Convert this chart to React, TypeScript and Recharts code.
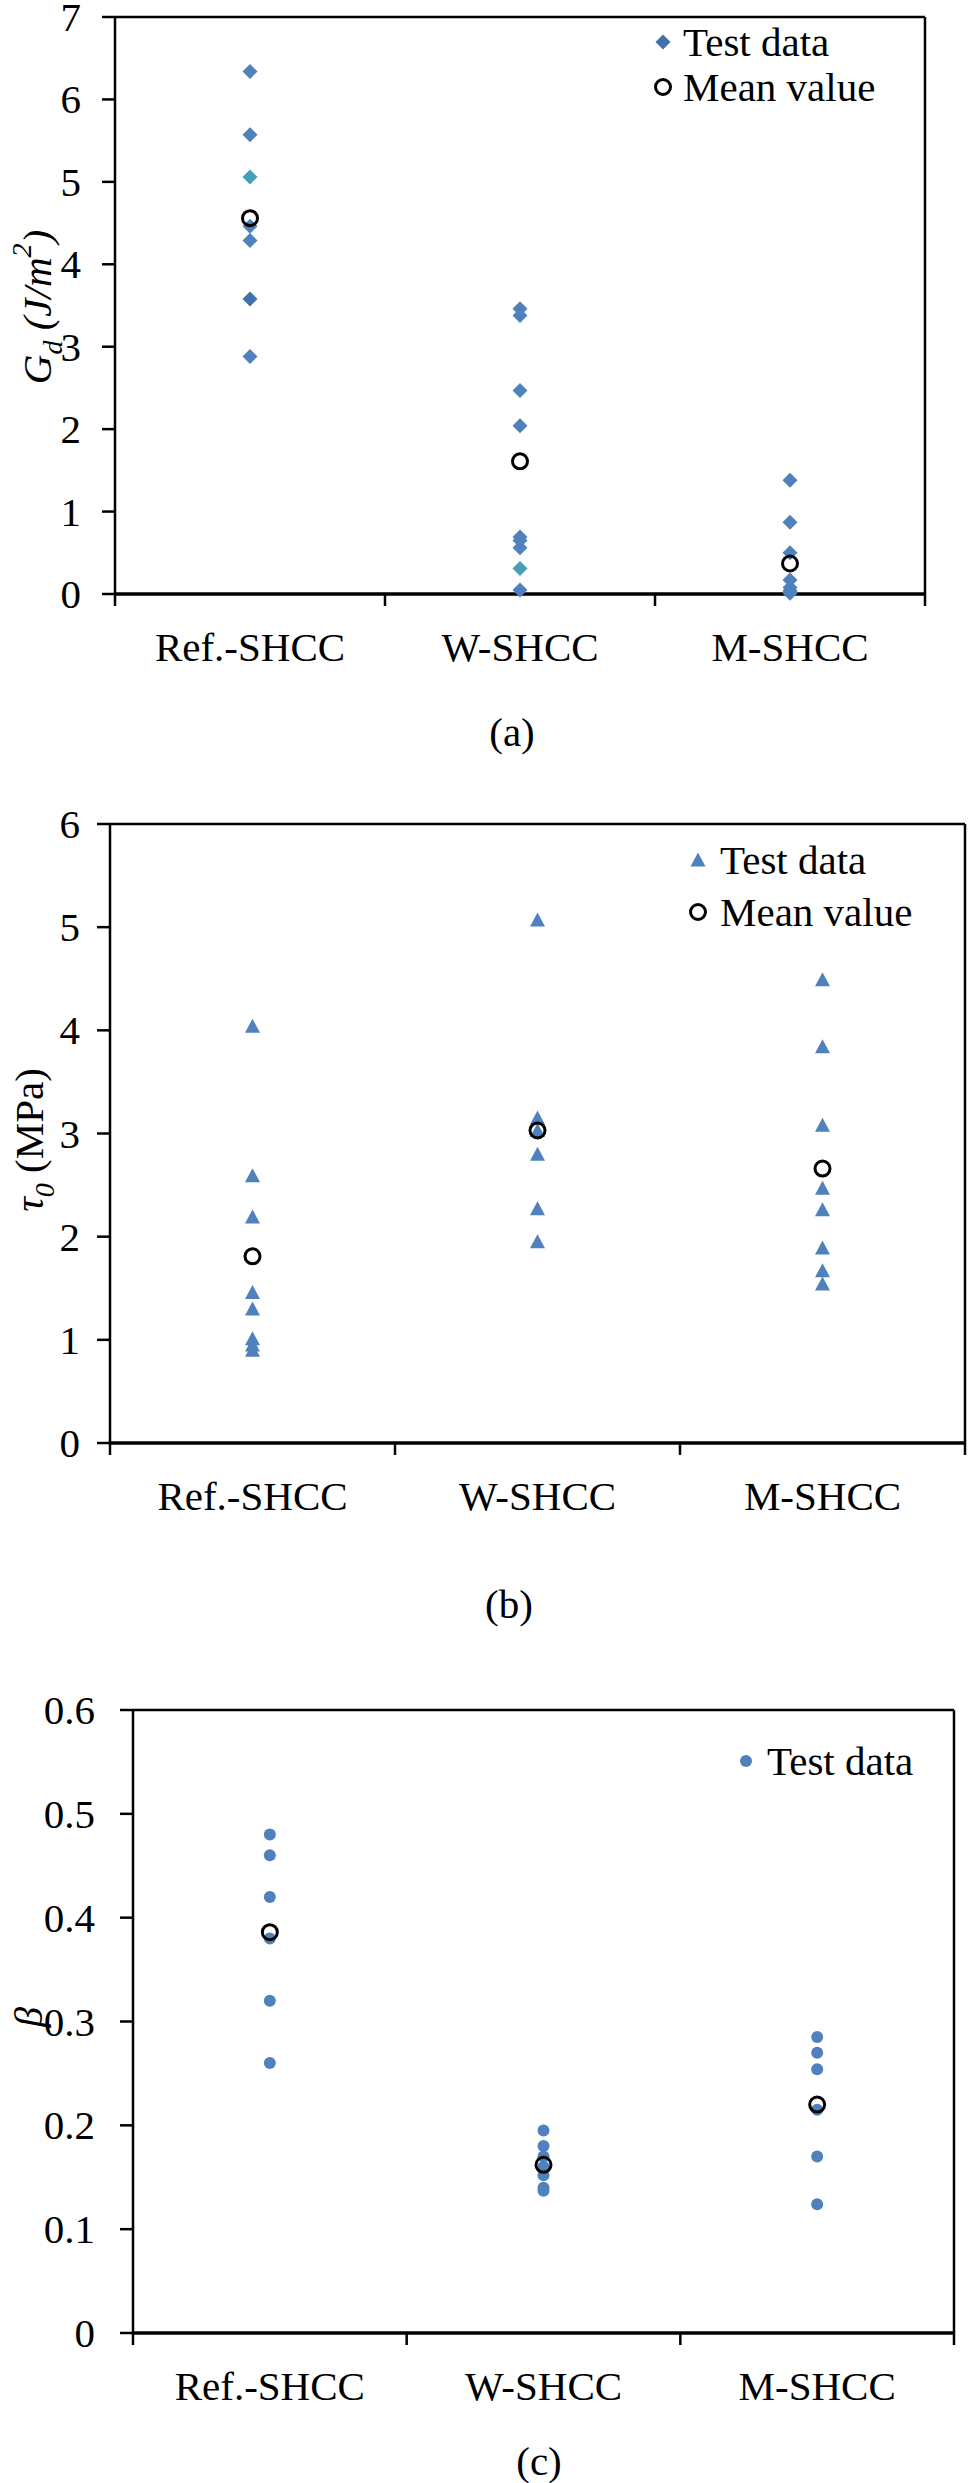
import React from "react"
import {
  ScatterChart,
  Scatter,
  XAxis,
  YAxis,
  Cell,
  ReferenceLine,
} from "recharts"

// ---- data ----
const categories = ["Ref.-SHCC", "W-SHCC", "M-SHCC"]

// (a) debonding energy Gd (J/m2)
const gdRef = [6.34, 5.57, 5.06, 4.46, 4.29, 3.58, 2.88]
const gdW = [3.46, 3.38, 2.47, 2.04, 0.69, 0.65, 0.56, 0.31, 0.05]
const gdM = [1.38, 0.87, 0.5, 0.17, 0.08, 0.04, 0.02, 0.01]
const gdMean = [4.56, 1.61, 0.37]
const gdTicks = [0, 1, 2, 3, 4, 5, 6, 7]

// (b) frictional bond tau0 (MPa)
const tauRef = [4.04, 2.59, 2.19, 1.46, 1.3, 1.01, 0.95, 0.9]
const tauW = [5.07, 3.15, 3.03, 2.8, 2.27, 1.95]
const tauM = [4.49, 3.84, 3.08, 2.47, 2.26, 1.89, 1.67, 1.54]
const tauMean = [1.81, 3.03, 2.66]
const tauTicks = [0, 1, 2, 3, 4, 5, 6]

// (c) slip-hardening coefficient beta
const betaRef = [0.48, 0.46, 0.42, 0.38, 0.32, 0.26]
const betaW = [0.195, 0.18, 0.17, 0.16, 0.152, 0.14, 0.137]
const betaM = [0.285, 0.27, 0.254, 0.215, 0.17, 0.124]
const betaMean = [0.386, 0.162, 0.22]
const betaTicks = [0, 0.1, 0.2, 0.3, 0.4, 0.5, 0.6]

const xTicks = [0, 0.5, 1, 1.5, 2, 2.5, 3]

// ---- styling ----
const FONT = "'Liberation Serif', 'Times New Roman', serif"
const FS = 41
const BLUE = "#4F81BD"
const TEAL = "#46A0B8"
const DARK = "#4170AD"
const X_TICK = 12

// a couple of points in (a) were coloured differently in the original
const gdFill: Record<string, string> = { "0-2": TEAL, "0-5": DARK, "1-7": TEAL }

function toPoints(groups: number[][]) {
  return groups.flatMap((vals, c) =>
    vals.map((v, i) => ({ x: c + 0.5, y: v, key: `${c}-${i}` }))
  )
}
function meanPoints(vals: number[]) {
  return vals.map((v, c) => ({ x: c + 0.5, y: v }))
}

const Diamond = (p: any) => (
  <polygon
    points={`${p.cx},${p.cy - 7.5} ${p.cx + 7.5},${p.cy} ${p.cx},${p.cy + 7.5} ${p.cx - 7.5},${p.cy}`}
    fill={p.fill}
  />
)
const Triangle = (p: any) => (
  <polygon
    points={`${p.cx},${p.cy - 7.5} ${p.cx + 7.5},${p.cy + 6.5} ${p.cx - 7.5},${p.cy + 6.5}`}
    fill={p.fill}
  />
)
const Dot = (p: any) => <circle cx={p.cx} cy={p.cy} r={6} fill={p.fill} />
const Ring = (p: any) => (
  <circle cx={p.cx} cy={p.cy} r={7.5} fill="none" stroke="#000" strokeWidth={3} />
)

function CategoryTick({ x, y, payload }: any) {
  const v = payload.value
  const axisY = y - X_TICK
  if (Number.isInteger(v)) {
    return <line x1={x} x2={x} y1={axisY} y2={axisY + X_TICK} stroke="#000" strokeWidth={2.5} />
  }
  return (
    <text x={x} y={axisY + 67} textAnchor="middle" fontFamily={FONT} fontSize={FS} fill="#000">
      {categories[Math.floor(v)]}
    </text>
  )
}

function NumTick({ x, y, payload }: any) {
  return (
    <text x={x} y={y} textAnchor="end" dominantBaseline="central" fontFamily={FONT} fontSize={FS} fill="#000">
      {String(payload.value)}
    </text>
  )
}

type PanelProps = {
  top: number
  height: number
  marginTop: number
  marginRight: number
  xHeight: number
  yWidth: number
  tickMargin: number
  yMax: number
  yTicks: number[]
  points: { x: number; y: number; key: string }[]
  means: { x: number; y: number }[]
  shape: (p: any) => React.ReactElement
  fills?: Record<string, string>
}

function Panel(props: PanelProps) {
  const { top, height, marginTop, marginRight, xHeight, yWidth, tickMargin, yMax, yTicks, points, means, shape, fills } = props
  return (
    <div style={{ position: "absolute", left: 0, top, fontFamily: FONT }}>
      <ScatterChart
        width={968}
        height={height}
        margin={{ top: marginTop, right: marginRight, left: 0, bottom: 0 }}
        style={{ overflow: "visible" }}
      >
        <XAxis
          type="number"
          dataKey="x"
          domain={[0, 3]}
          ticks={xTicks}
          interval={0}
          height={xHeight}
          tickSize={X_TICK}
          tickMargin={0}
          tickLine={false}
          tick={(p: any) => <CategoryTick {...p} />}
          axisLine={{ stroke: "#000", strokeWidth: 3.5 }}
        />
        <YAxis
          type="number"
          dataKey="y"
          domain={[0, yMax]}
          ticks={yTicks}
          interval={0}
          width={yWidth}
          tickSize={13}
          tickMargin={tickMargin}
          tickLine={{ stroke: "#000", strokeWidth: 2.5 }}
          axisLine={{ stroke: "#000", strokeWidth: 2.5 }}
          tick={(p: any) => <NumTick {...p} />}
        />
        <ReferenceLine y={yMax} stroke="#000" strokeWidth={2.5} />
        <ReferenceLine x={3} stroke="#000" strokeWidth={2.5} />
        <Scatter data={points} shape={shape} isAnimationActive={false}>
          {points.map((p) => (
            <Cell key={p.key} fill={(fills && fills[p.key]) || BLUE} />
          ))}
        </Scatter>
        <Scatter data={means} shape={Ring} isAnimationActive={false} />
      </ScatterChart>
    </div>
  )
}

const txt = { fontFamily: FONT, fontSize: FS, fill: "#000" }

export default function App() {
  return (
    <div style={{ position: "absolute", left: 0, top: 0, width: 968, height: 2483, background: "#fff" }}>
      <Panel
        top={0}
        height={760}
        marginTop={17}
        marginRight={43}
        xHeight={166}
        yWidth={115}
        tickMargin={21}
        yMax={7}
        yTicks={gdTicks}
        points={toPoints([gdRef, gdW, gdM])}
        means={meanPoints(gdMean)}
        shape={Diamond}
        fills={gdFill}
      />
      <Panel
        top={770}
        height={770}
        marginTop={54}
        marginRight={3}
        xHeight={97}
        yWidth={110}
        tickMargin={17}
        yMax={6}
        yTicks={tauTicks}
        points={toPoints([tauRef, tauW, tauM])}
        means={meanPoints(tauMean)}
        shape={Triangle}
      />
      <Panel
        top={1640}
        height={843}
        marginTop={70}
        marginRight={14}
        xHeight={150}
        yWidth={133}
        tickMargin={25}
        yMax={0.6}
        yTicks={betaTicks}
        points={toPoints([betaRef, betaW, betaM])}
        means={meanPoints(betaMean)}
        shape={Dot}
      />

      {/* axis titles, legends and captions */}
      <svg
        width={968}
        height={2483}
        style={{ position: "absolute", left: 0, top: 0, pointerEvents: "none" }}
      >
        <text {...txt} transform="translate(37,307) rotate(-90)" textAnchor="middle" dominantBaseline="central" fontStyle="italic">
          G<tspan baselineShift="sub" fontSize={28}>d</tspan>
          <tspan> (J/m</tspan>
          <tspan baselineShift="super" fontSize={28}>2</tspan>
          <tspan>)</tspan>
        </text>
        <text {...txt} transform="translate(29,1140) rotate(-90)" textAnchor="middle" dominantBaseline="central">
          <tspan fontStyle="italic">τ</tspan>
          <tspan baselineShift="sub" fontSize={28} fontStyle="italic">0</tspan>
          <tspan> (MPa)</tspan>
        </text>
        <text {...txt} transform="translate(28,2017) rotate(-90)" textAnchor="middle" dominantBaseline="central" fontStyle="italic">
          β
        </text>

        <Diamond cx={663} cy={42} fill={DARK} />
        <text {...txt} x={683} y={42} dominantBaseline="central">Test data</text>
        <Ring cx={663} cy={87} />
        <text {...txt} x={683} y={87} dominantBaseline="central">Mean value</text>

        <Triangle cx={698} cy={860} fill={BLUE} />
        <text {...txt} x={720} y={860} dominantBaseline="central">Test data</text>
        <Ring cx={698} cy={912} />
        <text {...txt} x={720} y={912} dominantBaseline="central">Mean value</text>

        <Dot cx={746} cy={1761} fill={BLUE} />
        <text {...txt} x={767} y={1761} dominantBaseline="central">Test data</text>

        <text {...txt} x={512} y={732} textAnchor="middle" dominantBaseline="central">(a)</text>
        <text {...txt} x={509} y={1604} textAnchor="middle" dominantBaseline="central">(b)</text>
        <text {...txt} x={539} y={2461} textAnchor="middle" dominantBaseline="central">(c)</text>
      </svg>
    </div>
  )
}
